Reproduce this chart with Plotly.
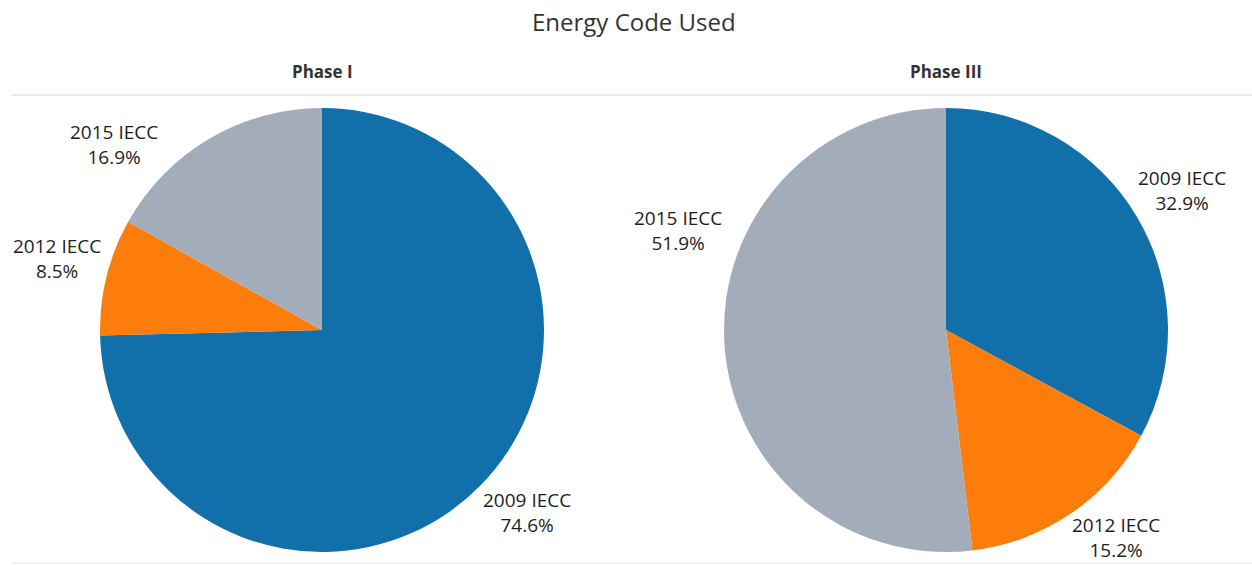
import plotly.graph_objects as go

W, H = 1252, 565

categories = ["2009 IECC", "2012 IECC", "2015 IECC"]
phase1_values = [74.6, 8.5, 16.9]
phase3_values = [32.9, 15.2, 51.9]
phase_titles = ["Phase I", "Phase III"]
colors = ["#1170aa", "#fc7d0b", "#a3acb9"]

# layout (pixel positions of pie centers and label anchors, not data)
FONT = "Open Sans"
centers = [(322, 330), (946, 330)]
R = 222
label_pos = [
    [(527, 512), (57, 258), (114, 145)],
    [(1182, 190), (1116, 537), (678, 231)],
]

fig = go.Figure()
annotations = []
for (cx, cy), vals, title, lpos in zip(centers, [phase1_values, phase3_values], phase_titles, label_pos):
    fig.add_trace(go.Pie(
        labels=categories, values=vals, sort=False, direction="clockwise",
        rotation=0, marker=dict(colors=colors, line=dict(width=0)),
        textinfo="none", hoverinfo="label+percent", showlegend=False,
        domain=dict(x=[(cx - R) / W, (cx + R) / W],
                    y=[1 - (cy + R) / H, 1 - (cy - R) / H]),
    ))
    for cat, v, (lx, ly) in zip(categories, vals, lpos):
        annotations.append(dict(
            x=lx / W, y=1 - ly / H, xref="paper", yref="paper",
            text=f"{cat}<br>{v:.1f}%", showarrow=False,
            xanchor="center", yanchor="middle", align="center",
            font=dict(family=FONT, size=19, color="#1e1e1e"),
        ))
    annotations.append(dict(
        x=cx / W, y=1 - 71 / H, xref="paper", yref="paper",
        text=f"<b>{title}</b>", showarrow=False,
        xanchor="center", yanchor="middle",
        font=dict(family=FONT, size=17, color="#333333"),
    ))

annotations.append(dict(
    x=634 / W, y=1 - 21 / H, xref="paper", yref="paper",
    text="Energy Code Used", showarrow=False,
    xanchor="center", yanchor="middle",
    font=dict(family=FONT, size=24, color="#333333"),
))

shapes = [
    dict(type="line", xref="paper", yref="paper", x0=12 / W, x1=1, y0=1 - 95 / H, y1=1 - 95 / H,
         line=dict(color="#d4d4d4", width=1)),
    dict(type="line", xref="paper", yref="paper", x0=12 / W, x1=1, y0=1 - 563 / H, y1=1 - 563 / H,
         line=dict(color="#e6e6e6", width=1)),
]

fig.update_layout(
    width=W, height=H, margin=dict(l=0, r=0, t=0, b=0),
    paper_bgcolor="white", plot_bgcolor="white",
    annotations=annotations, shapes=shapes,
)

fig.write_html("out.html", config={"displayModeBar": False},
               post_script="document.body.style.margin='0px';")
